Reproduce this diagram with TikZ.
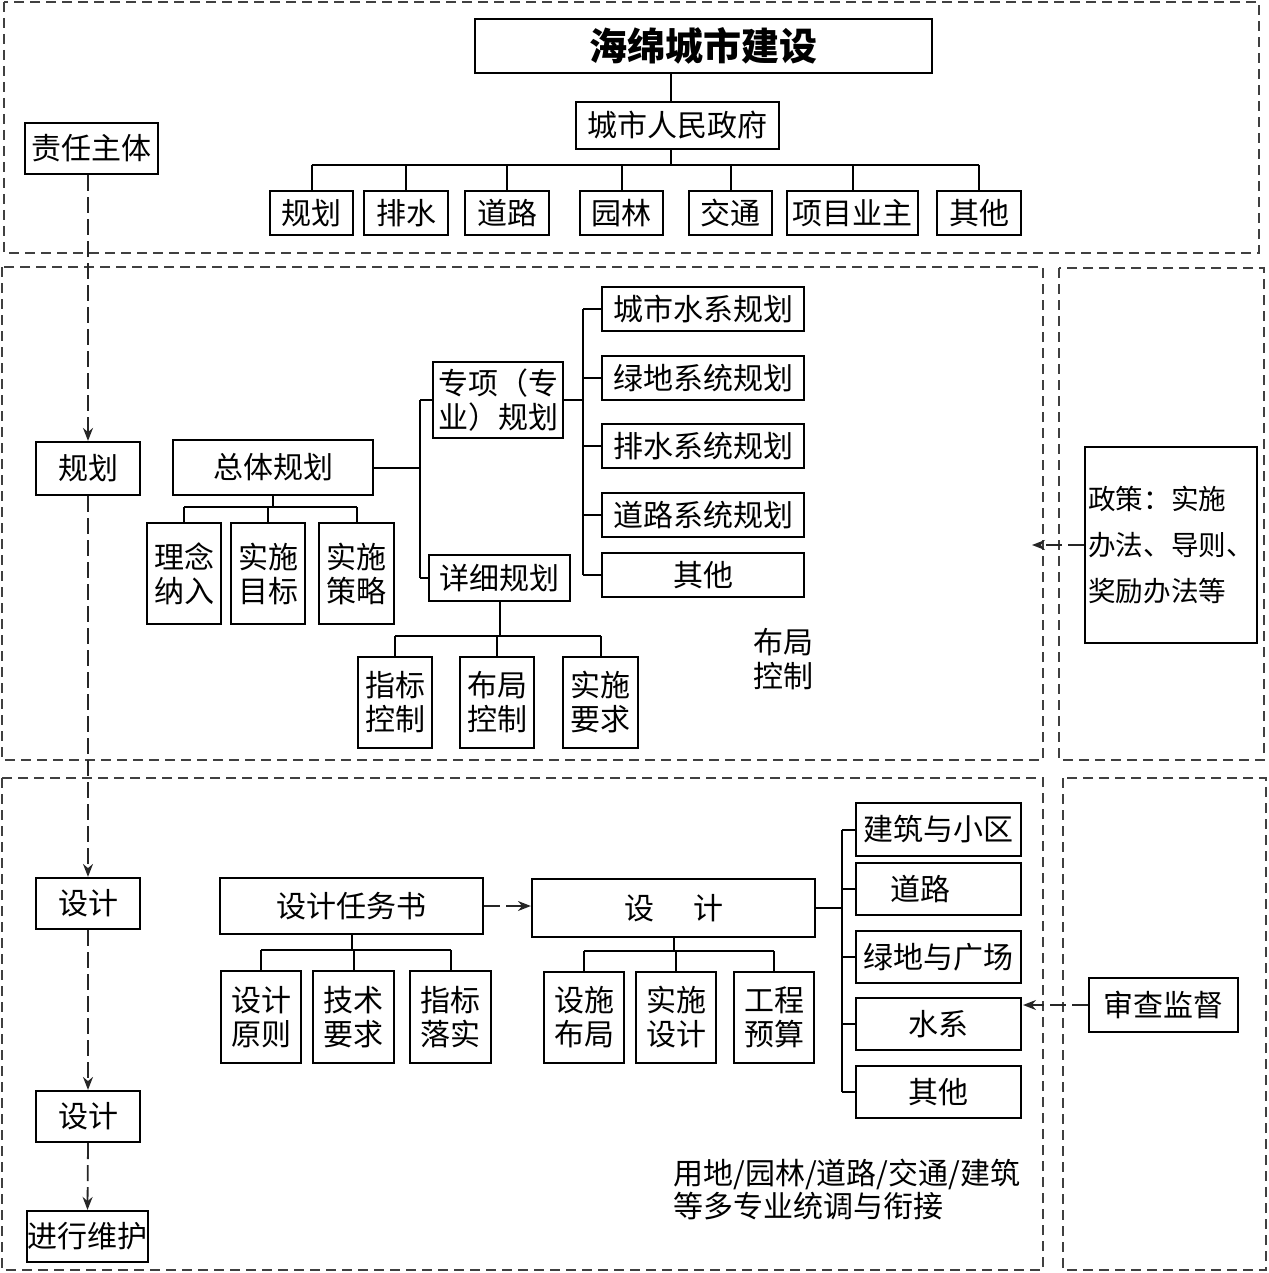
\documentclass[tikz,border=0pt]{standalone}
\usepackage{fontspec}
\setmainfont{Noto Sans CJK SC}
\usetikzlibrary{arrows.meta}
\newcommand\fs{\fontsize{15}{17}\selectfont}
\tikzset{
  bx/.style={draw, line width=1.1pt, inner sep=0pt, align=center, font=\fs},
  ln/.style={line width=1pt},
  frame/.style={draw=black!75, line width=1pt, dash pattern=on 5pt off 3pt},
  darr/.style={draw=black!85, line width=0.9pt, dash pattern=on 8pt off 3pt, -{Stealth[length=6.5pt,width=5pt]}},
}
\newcommand\mybox[6]{\node[bx,minimum width={(#4-#2)*0.5pt},minimum height={(#5-#3)*0.5pt}] (#1) at ({(#2+#4)/2},{(#3+#5)/2}) {#6};}
\begin{document}
\begin{tikzpicture}[x=0.5pt,y=-0.5pt]
\useasboundingbox (0,0) rectangle (1268,1273);
% frames
\draw[frame] (4,2) rectangle (1259,253);
\draw[frame] (2,267) rectangle (1043,760);
\draw[frame] (1059,268) rectangle (1264,760);
\draw[frame] (2,778) rectangle (1043,1270);
\draw[frame] (1063,778) rectangle (1266,1270);
% top
\mybox{title}{475}{19}{932}{73}{\fontsize{19}{22}\selectfont\bfseries 海绵城市建设}
\mybox{gov}{576}{102}{779}{149}{城市人民政府}
\mybox{t1}{270}{191}{353}{235}{规划}
\mybox{t2}{364}{191}{448}{235}{排水}
\mybox{t3}{465}{191}{549}{235}{道路}
\mybox{t4}{580}{191}{663}{235}{园林}
\mybox{t5}{689}{191}{772}{235}{交通}
\mybox{t6}{787}{191}{918}{235}{项目业主}
\mybox{t7}{937}{191}{1021}{235}{其他}
\mybox{zr}{25}{123}{158}{174}{责任主体}
\coordinate (gb) at (671,165);
\draw[ln] (gov.north -| gb) -- (title.south -| gb);
\draw[ln] (gov.south -| gb) -- (gb);
\draw[ln] (gb -| t1.north) -- (gb -| t7.north);
\foreach \n in {t1,t2,t3,t4,t5,t6,t7} \draw[ln] (gb -| \n.north) -- (\n.north);
% middle
\mybox{gh}{36}{442}{140}{495}{规划}
\mybox{zt}{173}{440}{373}{495}{总体规划}
\mybox{zx}{433}{362}{563}{438}{专项（专\\业）规划}
\mybox{xx}{429}{555}{570}{601}{详细规划}
\mybox{s1}{602}{287}{804}{331}{城市水系规划}
\mybox{s2}{602}{356}{804}{400}{绿地系统规划}
\mybox{s3}{602}{424}{804}{468}{排水系统规划}
\mybox{s4}{602}{493}{804}{537}{道路系统规划}
\mybox{s5}{602}{553}{804}{597}{其他}
\mybox{z1}{147}{523}{221}{624}{理念\\纳入}
\mybox{z2}{231}{523}{305}{624}{实施\\目标}
\mybox{z3}{319}{523}{394}{624}{实施\\策略}
\mybox{d1}{358}{657}{432}{748}{指标\\控制}
\mybox{d2}{460}{657}{534}{748}{布局\\控制}
\mybox{d3}{563}{657}{638}{748}{实施\\要求}
\node[bx, align=left, font=\fontsize{13.8}{23}\selectfont, inner xsep=1.5pt, minimum width=84pt, minimum height=98pt] (zc) at (1171,545) {政策：实施\\办法、导则、\\奖励办法等};
\node[font=\fs, align=center, inner sep=0pt] (bj) at (783,659) {布局\\控制};
\coordinate (j1) at (420,0);
\draw[ln] (zt.east) -- (zt.east -| j1);
\draw[ln] (zx.west -| j1) -- (xx.west -| j1);
\draw[ln] (zx.west -| j1) -- (zx.west);
\draw[ln] (xx.west -| j1) -- (xx.west);
\coordinate (j2) at (583,0);
\draw[ln] (zx.east) -- (zx.east -| j2);
\draw[ln] (s1.west -| j2) -- (s5.west -| j2);
\foreach \n in {s1,s2,s3,s4,s5} \draw[ln] (\n.west -| j2) -- (\n.west);
\coordinate (b1) at (0,507);
\draw[ln] (zt.south) -- (zt.south |- b1);
\draw[ln] (b1 -| z1.north) -- (b1 -| z3.north);
\foreach \n in {z1,z2,z3} \draw[ln] (b1 -| \n.north) -- (\n.north);
\coordinate (b2) at (0,636);
\draw[ln] (xx.south) -- (xx.south |- b2);
\draw[ln] (b2 -| d1.north) -- (b2 -| d3.north);
\foreach \n in {d1,d2,d3} \draw[ln] (b2 -| \n.north) -- (\n.north);
\coordinate (pa) at (1032,545);
\draw[darr] (zc.west) -- (pa);
\draw[darr] (zr.south -| gh.north) -- (gh.north);
% bottom
\mybox{g1}{36}{878}{140}{929}{设计}
\mybox{g2}{36}{1091}{140}{1142}{设计}
\mybox{g3}{27}{1211}{148}{1262}{进行维护}
\mybox{rw}{220}{878}{483}{934}{设计任务书}
\mybox{r1}{221}{971}{301}{1063}{设计\\原则}
\mybox{r2}{313}{971}{394}{1063}{技术\\要求}
\mybox{r3}{410}{971}{491}{1063}{指标\\落实}
\mybox{sj}{532}{879}{815}{937}{设\hspace{1.3em}计}
\mybox{p1}{544}{972}{624}{1063}{设施\\布局}
\mybox{p2}{636}{972}{716}{1063}{实施\\设计}
\mybox{p3}{734}{972}{814}{1063}{工程\\预算}
\mybox{q1}{856}{803}{1021}{856}{建筑与小区}
\mybox{q2}{856}{863}{1021}{915}{道路\hspace{1.2em}}
\mybox{q3}{856}{931}{1021}{983}{绿地与广场}
\mybox{q4}{856}{998}{1021}{1050}{水系}
\mybox{q5}{856}{1066}{1021}{1118}{其他}
\mybox{sc}{1089}{978}{1238}{1032}{审查监督}
\node[font=\fontsize{15}{16.5}\selectfont, align=left, anchor=north west, inner sep=0pt] (dz) at (673,1159) {用地/园林/道路/交通/建筑\\等多专业统调与衔接};
\draw[darr] (gh.south) -- (g1.north);
\draw[darr] (g1.south) -- (g2.north);
\draw[darr] (g2.south) -- (g3.north);
\coordinate (b3) at (0,950);
\draw[ln] (rw.south) -- (rw.south |- b3);
\draw[ln] (b3 -| r1.north) -- (b3 -| r3.north);
\foreach \n in {r1,r2,r3} \draw[ln] (b3 -| \n.north) -- (\n.north);
\draw[darr] (rw.east) -- (rw.east -| sj.west);
\coordinate (b4) at (0,951);
\draw[ln] (sj.south) -- (sj.south |- b4);
\draw[ln] (b4 -| p1.north) -- (b4 -| p3.north);
\foreach \n in {p1,p2,p3} \draw[ln] (b4 -| \n.north) -- (\n.north);
\coordinate (j3) at (842,0);
\draw[ln] (sj.east) -- (sj.east -| j3);
\draw[ln] (q1.west -| j3) -- (q5.west -| j3);
\foreach \n in {q1,q2,q3,q4,q5} \draw[ln] (\n.west -| j3) -- (\n.west);
\coordinate (sa) at (1023,1005);
\draw[darr] (sc.west) -- (sa);
\end{tikzpicture}
\end{document}
